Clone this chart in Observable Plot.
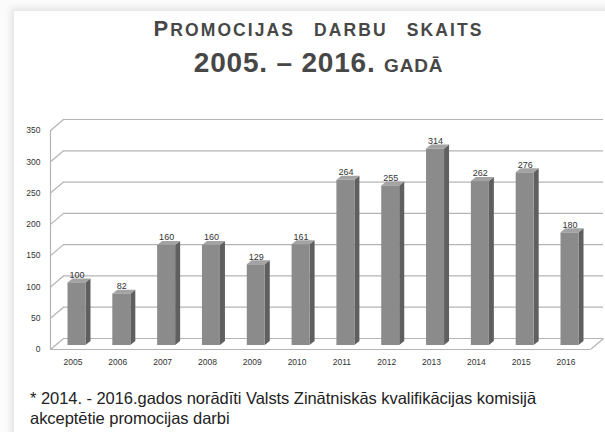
<!DOCTYPE html>
<html>
<head>
<meta charset="utf-8">
<script src="https://cdn.jsdelivr.net/npm/d3@7"></script>
<script src="https://cdn.jsdelivr.net/npm/@observablehq/plot@0.6"></script>
<style>
  html, body { margin: 0; padding: 0; }
  body { width: 605px; height: 432px; overflow: hidden; position: relative; background: #fbfbfb;
         font-family: "Liberation Sans", Arial, sans-serif; }
  #panel { position: absolute; left: 14px; top: 11px; width: 620px; height: 440px; background: #fff;
           box-shadow: -3px -3px 7px rgba(0,0,0,0.10); }
  .t { position: absolute; left: 0; width: 637px; text-align: center; color: #474747; font-weight: bold; white-space: nowrap; }
  #t1 { top: 16px; font-size: 22px; line-height: 26px; letter-spacing: 2.1px; word-spacing: 12px; }
  #t1 .sc { font-size: 17.5px; }
  #t2 { top: 47px; font-size: 28px; line-height: 31px; letter-spacing: 0.8px; }
  #t2 .sc { font-size: 19px; }
  #chart { position: absolute; left: 0; top: 110px; }
  #cap { position: absolute; left: 30px; top: 388px; font-size: 16.5px; line-height: 20px; color: #222;
         letter-spacing: -0.05px; white-space: pre; }
</style>
</head>
<body>
<div id="panel"></div>
<div class="t" id="t1">P<span class="sc">ROMOCIJAS DARBU SKAITS</span></div>
<div class="t" id="t2">2005. – 2016. <span class="sc">GADĀ</span></div>
<div id="chart"></div>
<div id="cap">* 2014. - 2016.gados norādīti Valsts Zinātniskās kvalifikācijas komisijā
akceptētie promocijas darbi</div>
<script>
// ---- data ----
const years  = ["2005","2006","2007","2008","2009","2010","2011","2012","2013","2014","2015","2016"];
const values = [100, 82, 160, 160, 129, 161, 264, 255, 314, 262, 276, 180];
const yTicks = [0, 50, 100, 150, 200, 250, 300, 350];

// ---- geometry (pixels converted to data units) ----
const X0 = 76.5, X1 = 569.5;            // pixel centres of first / last bar
const PX = (X1 - X0) / (years.length - 1);
const YB = 239, YT = 20;                  // front plane: y(0), y(350)
const PY = (YB - YT) / 350;
const HW = 9 / PX;                        // half width of bar front
const SW = 5 / PX, SD = 4 / PY;           // bar depth (side width / rise)
const DDX = 13 / PX, DDY = 11 / PY;       // wall depth
const XL = (50 - X0) / PX;                // front-left corner
const XR = (590 - X0) / PX;               // front-right corner

const rows = years.map((year, i) => ({year, i, value: values[i]}));
const sidePts = rows.flatMap(d => [
  {year: d.year, x: d.i + HW,      y1: 0,  y2: d.value},
  {year: d.year, x: d.i + HW + SW, y1: SD, y2: d.value + SD}
]);
const topPts = rows.flatMap(d => [
  {year: d.year, y: d.value,      x1: d.i - HW,      x2: d.i + HW},
  {year: d.year, y: d.value + SD, x1: d.i - HW + SW, x2: d.i + HW + SW}
]);

const grid = "#b4b4b4";
const font = "Liberation Sans, Arial, sans-serif";

const chart = Plot.plot({
  width: 605,
  height: 262,
  margin: 0,
  x: {type: "linear", domain: [0, years.length - 1], range: [X0, X1], axis: null},
  y: {type: "linear", domain: [0, 350], range: [YB, YT], axis: null},
  style: {background: "transparent", overflow: "visible"},
  marks: [
    // back wall grid
    Plot.ruleY(yTicks, {y: d => d + DDY, x1: XL + DDX, x2: XR + DDX, stroke: grid, strokeWidth: 1.2}),
    // left wall diagonals
    Plot.link(yTicks, {x1: XL, y1: d => d, x2: XL + DDX, y2: d => d + DDY, stroke: grid, strokeWidth: 1.2}),
    // front-left vertical edge
    Plot.ruleX([XL], {y1: 0, y2: 350, stroke: grid, strokeWidth: 1.2}),
    // floor front edge and right diagonal
    Plot.ruleY([0], {x1: XL, x2: XR, stroke: grid, strokeWidth: 1.2}),
    Plot.link([0], {x1: XR, y1: d => d, x2: XR + DDX, y2: d => d + DDY, stroke: grid, strokeWidth: 1.2}),
    // bars: side, top, front
    Plot.areaY(sidePts, {x: "x", y1: "y1", y2: "y2", z: "year", fill: "#5f5f5f", dy: -4}),
    Plot.areaX(topPts, {y: "y", x1: "x1", x2: "x2", z: "year", fill: "#a3a3a3", dy: -4}),
    Plot.rect(rows, {x1: d => d.i - HW, x2: d => d.i + HW, y1: 0, y2: "value", fill: "#8b8b8b", dy: -4}),
    // value labels
    Plot.text(rows, {x: "i", y: "value", text: d => String(d.value), dy: -12, fontSize: 9, fill: "#333", fontFamily: font}),
    // y tick labels
    Plot.text(yTicks, {x: XL, y: d => d, text: d => String(d), dx: -10, textAnchor: "end", fontSize: 8.5, fill: "#333", fontFamily: font}),
    // year labels
    Plot.text(rows, {x: "i", y: 0, text: "year", dx: -4, dy: 13, fontSize: 8.5, fill: "#333", fontFamily: font})
  ]
});
document.getElementById("chart").appendChild(chart);
</script>
</body>
</html>
